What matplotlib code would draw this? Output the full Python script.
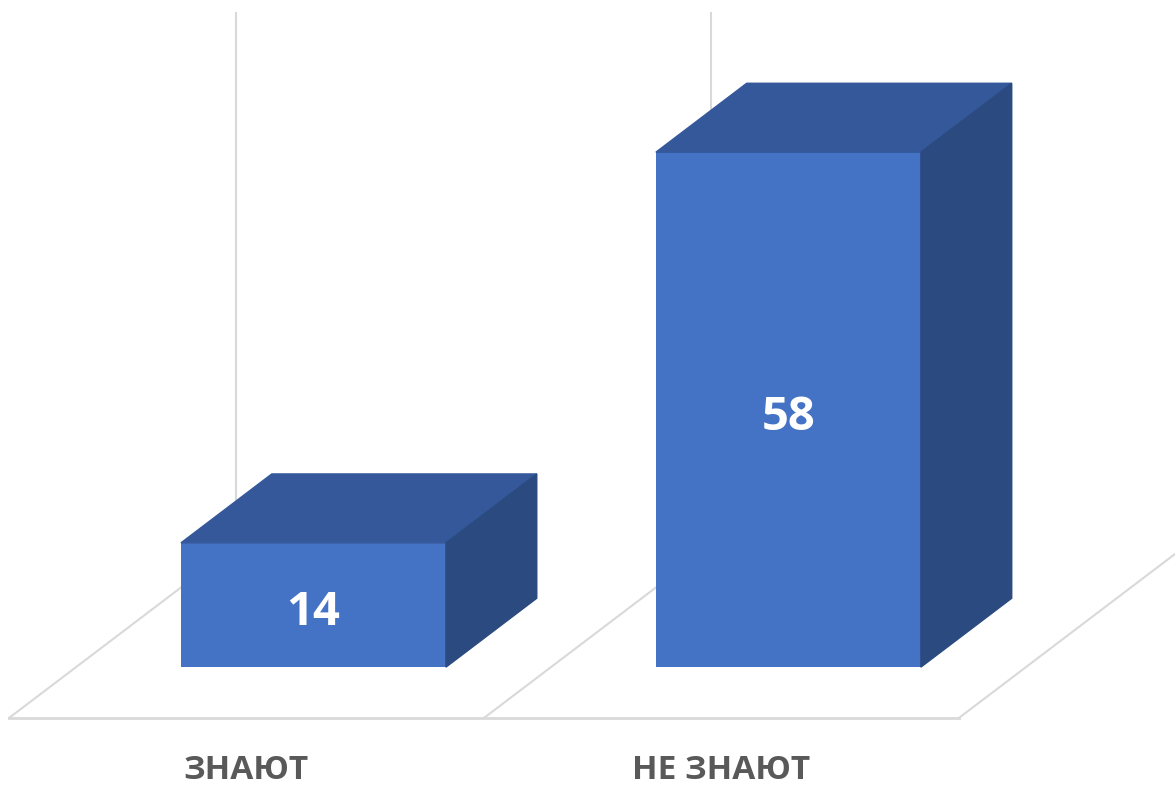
import matplotlib.pyplot as plt
from matplotlib.patches import Polygon

categories = ['ЗНАЮТ', 'НЕ ЗНАЮТ']
values = [14, 58]
y_max = 60

plt.rcParams['font.family'] = ['Open Sans', 'DejaVu Sans']

# oblique "3D" projection: one unit of depth shifts by (dx, dy) in data units
dx, dy = 0.478, 19.4
d0, d1 = 0.295, 0.695    # bar depth span inside the floor
half_w = 0.279           # half width of bar front face

front_c = '#4472C4'
top_c = '#34589a'
side_c = '#2a4a80'
grid_c = '#d9d9d9'

fig = plt.figure(figsize=(11.75, 7.85), dpi=100)
ax = fig.add_axes([0, 0, 1, 1])
ax.set_xlim(-0.519, 1.955)
ax.set_ylim(-7.55, 80.86)
ax.axis('off')

n = len(categories)
edges = [i - 0.5 for i in range(n + 1)]

# back wall verticals
for e in edges:
    ax.plot([e + dx, e + dx], [dy, dy + y_max], color=grid_c, lw=1.5, zorder=0)

# floor
ax.plot([edges[0], edges[-1]], [0, 0], color=grid_c, lw=2, zorder=0)
for e in edges:
    ax.plot([e, e + dx], [0, dy], color=grid_c, lw=1.5, zorder=0)

# bars
xs = [i + dx * d0 for i in range(n)]
base = dy * d0
ax.bar(xs, values, width=2 * half_w, bottom=base, color=front_c, zorder=2)
ddx = dx * (d1 - d0)
ddy = dy * (d1 - d0)
for i, v in enumerate(values):
    l, r = xs[i] - half_w, xs[i] + half_w
    t = base + v
    ax.add_patch(Polygon([(l, t), (r, t), (r + ddx, t + ddy), (l + ddx, t + ddy)],
                         closed=True, color=top_c, zorder=2))
    ax.add_patch(Polygon([(r, base), (r + ddx, base + ddy), (r + ddx, t + ddy), (r, t)],
                         closed=True, color=side_c, zorder=2))
    ax.text(xs[i], base + v / 2 - 0.9, str(v), color='white', fontsize=34,
            fontweight='bold', ha='center', va='center', zorder=3)

for i, c in enumerate(categories):
    ax.text(i, -5.9, c, color='#595959', fontsize=24, fontweight='bold',
            ha='center', va='center')

plt.savefig('out.png', dpi=100)
